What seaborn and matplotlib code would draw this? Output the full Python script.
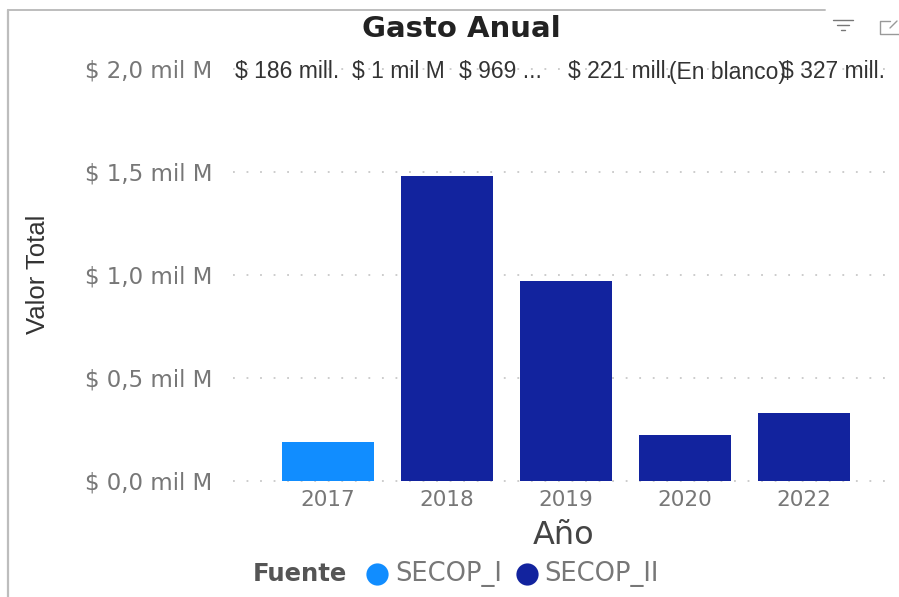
import matplotlib
matplotlib.use('Agg')
import matplotlib.pyplot as plt
from matplotlib.lines import Line2D
import pandas as pd
import seaborn as sns

years = ['2017', '2018', '2019', '2020', '2022']
values = [0.186, 1.478, 0.969, 0.221, 0.327]
sources = ['SECOP_I', 'SECOP_II', 'SECOP_II', 'SECOP_II', 'SECOP_II']
y_ticks = [0.0, 0.5, 1.0, 1.5, 2.0]
y_labels = ['$ 0,0 mil M', '$ 0,5 mil M', '$ 1,0 mil M', '$ 1,5 mil M', '$ 2,0 mil M']
top_labels = ['$ 186 mill.', '$ 1 mil M', '$ 969 ...', '$ 221 mill.', '(En blanco)', '$ 327 mill.']
top_label_x = [235, 352, 459, 568, 669, 781]  # left edge of each label, pixels

colors = {'SECOP_I': '#118DFF', 'SECOP_II': '#12239E'}

W, H = 899, 597
data = pd.DataFrame({'year': years, 'value': values, 'source': sources})

sns.set_theme(style='white')
plt.rcParams['font.family'] = ['DejaVu Sans']

fig = plt.figure(figsize=(W / 100, H / 100), dpi=100)
ax = fig.add_axes([233 / W, 1 - 480.5 / H, (895 - 233) / W, (480.5 - 68.5) / H])

sns.barplot(data=data, x='year', y='value', hue='source', palette=colors, saturation=1,
            dodge=False, width=0.78, legend=False, ax=ax, linewidth=0, zorder=2)

ax.set_xlim(-0.798, 4.765)
ax.set_ylim(0, 2.0)
sns.despine(ax=ax, left=True, bottom=True, top=True, right=True)
ax.set_yticks(y_ticks)
ax.set_yticklabels(y_labels, fontsize=16.5, color='#777777')
ax.tick_params(axis='x', labelsize=15.5, labelcolor='#777777', length=0, pad=7)
ax.tick_params(axis='y', length=0, pad=15)
ax.grid(axis='y', color='#c8c8c8', linestyle=(0, (1, 6.5)), linewidth=1.3)
ax.grid(axis='x', visible=False)
for line in ax.get_ygridlines():
    line.set_clip_on(False)
ax.set_axisbelow(True)

ax.set_xlabel('Año', fontsize=23, color='#444444', labelpad=7)
ax.set_ylabel('')

def fx(px):
    return px / W

def fy(px):
    return 1 - px / H

fig.text(fx(461), fy(29), 'Gasto Anual', fontsize=21, fontweight='bold',
         color='#222222', ha='center', va='center')
fig.text(fx(38), fy(274), 'Valor Total', fontsize=18.5, rotation=90, color='#333333',
         ha='center', va='center', family=['Liberation Sans', 'DejaVu Sans'])

for label, px in zip(top_labels, top_label_x):
    fig.text(fx(px), fy(72), label, fontsize=16.5, color='#333333', ha='left', va='center',
             family=['Liberation Sans', 'DejaVu Sans'])

# legend
fig.text(fx(253), fy(574), 'Fuente', fontsize=17.5, fontweight='bold', color='#555555',
         ha='left', va='center')
for name, mx, tx in zip(['SECOP_I', 'SECOP_II'], [377, 527], [395, 544]):
    fig.add_artist(Line2D([fx(mx)], [fy(574)], marker='o', markersize=16, color=colors[name],
                          linestyle='none', markeredgewidth=0, transform=fig.transFigure))
    fig.text(fx(tx), fy(574), name, fontsize=18.5, color='#777777', ha='left', va='center')

# visual frame
fig.add_artist(Line2D([fx(8), fx(8)], [fy(10), fy(597)], color='#bdbdbd', lw=1.6))
fig.add_artist(Line2D([fx(8), fx(825)], [fy(10), fy(10)], color='#bdbdbd', lw=1.4))

# header icons
for x0, x1, py in [(833, 853, 20), (837, 849, 25), (841, 845, 30)]:
    fig.add_artist(Line2D([fx(x0), fx(x1)], [fy(py), fy(py)], color='#777777', lw=1))
fig.add_artist(Line2D([fx(890), fx(880), fx(880), fx(899)], [fy(21), fy(21), fy(34), fy(34)],
                      color='#999999', lw=1))
fig.add_artist(Line2D([fx(890), fx(897)], [fy(28), fy(21)], color='#999999', lw=1))

fig.savefig('out.png', dpi=100)
plt.close(fig)
